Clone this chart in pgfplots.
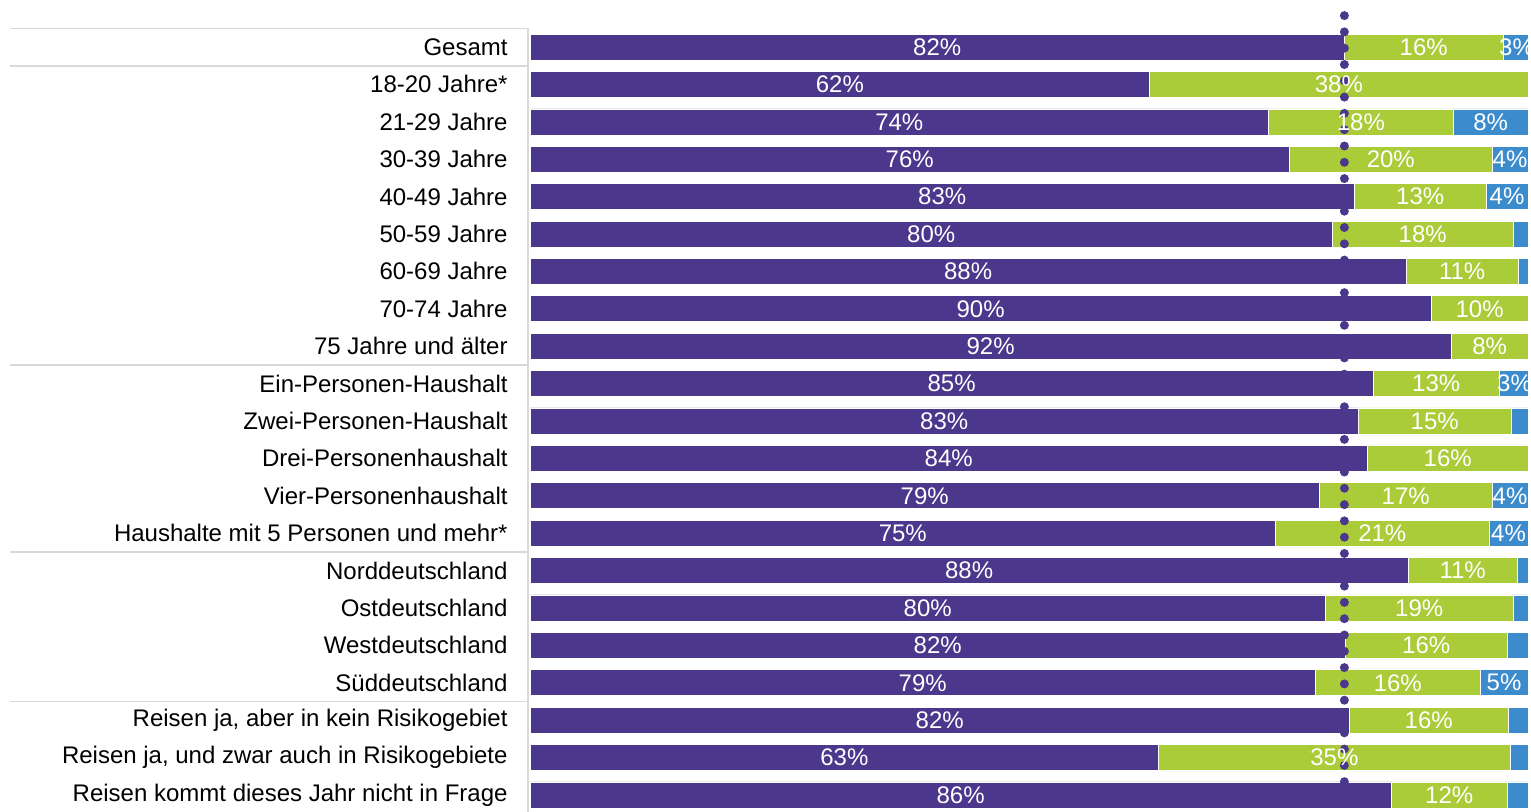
\documentclass[border=0pt]{standalone}
\usepackage{fontspec}
\setmainfont{Liberation Sans}
\usepackage{pgfplots}
\pgfplotsset{compat=1.18}
\usepackage{pgfplotstable}
\definecolor{cpurple}{RGB}{75,55,140}
\definecolor{cgreen}{RGB}{170,204,57}
\definecolor{cblue}{RGB}{60,140,205}
\definecolor{cgrid}{RGB}{217,217,217}

\pgfplotstableread{
x y
81.6 0
62.1 1
74.0 2
76.1 3
82.6 4
80.4 5
87.8 6
90.3 7
92.3 8
84.5 9
83.0 10
83.9 11
79.1 12
74.7 13
88.0 14
79.7 15
81.7 16
78.7 17
82.1 18
63.0 19
86.3 20
}\tpurple
\pgfplotstableread{
x y
15.9 0
37.9 1
18.5 2
20.3 3
13.2 4
18.1 5
11.2 6
9.7 7
7.7 8
12.6 9
15.3 10
16.1 11
17.3 12
21.4 13
10.9 14
18.8 15
16.2 16
16.5 17
15.9 18
35.2 19
11.6 20
}\tgreen
\pgfplotstableread{
x y
2.5 0
0.0 1
7.5 2
3.6 3
4.2 4
1.5 5
1.0 6
0.0 7
0.0 8
2.9 9
1.7 10
0.0 11
3.6 12
3.9 13
1.1 14
1.5 15
2.1 16
4.8 17
2.0 18
1.8 19
2.1 20
}\tblue
% label positions (segment centres) and texts
\pgfplotstableread{
x y lab
40.80 0 82
89.55 0 16
98.85 0 3
31.05 1 62
81.05 1 38
37.00 2 74
83.25 2 18
96.25 2 8
38.05 3 76
86.25 3 20
98.20 3 4
41.30 4 83
89.20 4 13
97.90 4 4
40.20 5 80
89.45 5 18
43.90 6 88
93.40 6 11
45.15 7 90
95.15 7 10
46.15 8 92
96.15 8 8
42.25 9 85
90.80 9 13
98.65 9 3
41.50 10 83
90.65 10 15
41.95 11 84
91.95 11 16
39.55 12 79
87.75 12 17
98.20 12 4
37.35 13 75
85.40 13 21
98.05 13 4
44.00 14 88
93.45 14 11
39.85 15 80
89.10 15 19
40.85 16 82
89.80 16 16
39.35 17 79
86.95 17 16
97.60 17 5
41.05 18 82
90.05 18 16
31.50 19 63
80.60 19 35
43.15 20 86
92.10 20 12
}\tlabels

\pgfplotsset{
  base/.style={
    at={(265pt,0pt)}, anchor=south west,
    scale only axis, width=499pt, height=406pt,
    xmin=0, xmax=100, ymin=-1.257, ymax=20.455, y dir=reverse,
    clip=false,
  },
}

\begin{document}
\begin{tikzpicture}
\useasboundingbox (0,0) rectangle (765.5pt,406pt);
\begin{axis}[base,
    xbar stacked, bar width=13pt,
    axis line style={draw=none},
    xtick=\empty,
    ytick={0,...,20},
    major tick length=0pt,
    yticklabel style={anchor=east, inner sep=0pt, xshift=-11pt, font=\fontsize{12}{14}\selectfont, text=black},
    yticklabels={Gesamt,18-20 Jahre*,21-29 Jahre,30-39 Jahre,40-49 Jahre,50-59 Jahre,60-69 Jahre,70-74 Jahre,75 Jahre und älter,Ein-Personen-Haushalt,Zwei-Personen-Haushalt,Drei-Personenhaushalt,Vier-Personenhaushalt,Haushalte mit 5 Personen und mehr*,Norddeutschland,Ostdeutschland,Westdeutschland,Süddeutschland,{Reisen ja, aber in kein Risikogebiet},{Reisen ja, und zwar auch in Risikogebiete},Reisen kommt dieses Jahr nicht in Frage},
  ]
  \addplot[fill=cpurple, draw=white, line width=0.3pt] table[x=x,y=y] {\tpurple};
  \addplot[fill=cgreen, draw=white, line width=0.3pt] table[x=x,y=y] {\tgreen};
  \addplot[fill=cblue, draw=white, line width=0.3pt] table[x=x,y=y] {\tblue};
  % separators in label area
  \draw[cgrid, line width=0.8pt] (axis cs:-52.1,-0.5) -- (axis cs:-0.2,-0.5);
  \draw[cgrid, line width=0.8pt] (axis cs:-52.1,0.5) -- (axis cs:-0.2,0.5);
  \draw[cgrid, line width=0.8pt] (axis cs:-52.1,8.5) -- (axis cs:-0.2,8.5);
  \draw[cgrid, line width=0.8pt] (axis cs:-52.1,13.5) -- (axis cs:-0.2,13.5);
  \draw[cgrid, line width=0.8pt] (axis cs:-52.1,17.5) -- (axis cs:-0.2,17.5);
  \draw[cgrid, line width=0.8pt] (axis cs:-0.2,-0.5) -- (axis cs:-0.2,20.455);
\end{axis}
\begin{axis}[base, hide axis]
  \addplot[draw=none, mark=none, nodes near coords={\pgfplotspointmeta\%},
    point meta=explicit symbolic,
    nodes near coords align={center},
    every node near coord/.append style={text=white, font=\fontsize{12}{14}\selectfont, inner sep=0pt, anchor=center}]
    table[x=x,y=y,meta=lab] {\tlabels};
  \addplot[cpurple, line width=4.5pt, line cap=round, dash pattern=on 0pt off 8.15pt] coordinates {(81.6,-0.84) (81.6,20.455)};
\end{axis}
\end{tikzpicture}
\end{document}
